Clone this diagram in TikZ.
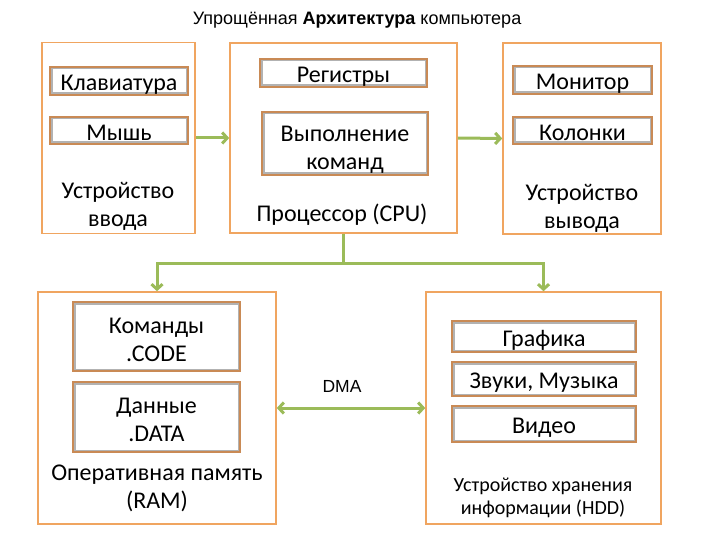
\documentclass[tikz,border=0pt]{standalone}
\usepackage{fontspec}
\setmainfont{Carlito}
\newfontfamily\arialf{Liberation Sans}
\usetikzlibrary{arrows.meta,shadows}
\definecolor{obox}{HTML}{F0A560}
\definecolor{ibox}{HTML}{C98A55}
\definecolor{grn}{HTML}{9BBB59}
\newcommand{\upsp}[1]{\rule{0pt}{#1}}
\tikzset{
  outer/.style={draw=obox, line width=1.6pt, fill=white, rectangle, inner sep=0pt},
  innerbase/.style={draw=ibox, line width=1.6pt, fill=white, rectangle, inner sep=0pt,
    font=\fontsize{24}{28}\selectfont,
    drop shadow={opacity=0.35, shadow xshift=1.2pt, shadow yshift=-1.2pt},
    path picture={\draw[black!30, line width=5pt] (path picture bounding box.south west) rectangle (path picture bounding box.north east);}},
  inner/.style={innerbase, text height=19.5pt, text depth=0pt},
  inner2/.style={innerbase, align=center},
  lbl/.style={align=center, font=\fontsize{24}{28}\selectfont, inner sep=0pt},
  arr/.style={draw=grn, line width=3pt, -{Straight Barb[length=5pt,width=11pt]}},
  arrb/.style={draw=grn, line width=3pt, {Straight Barb[length=5pt,width=11pt]}-{Straight Barb[length=5pt,width=11pt]}},
  ln/.style={draw=grn, line width=3pt}
}
\begin{document}
\begin{tikzpicture}[x=1pt,y=-1pt]
\useasboundingbox (0,0) rectangle (720,540);
\node[font=\arialf\fontsize{18}{20}\selectfont] (title) at (357,20) {Упрощённая \textbf{Архитектура} компьютера};
% outer boxes
\node[outer, minimum width=153pt, minimum height=191pt] (inp) at (118.5,138) {};
\node[outer, minimum width=227pt, minimum height=190pt] (cpu) at (343.5,138) {};
\node[outer, minimum width=158pt, minimum height=191pt] (out) at (582,138.5) {};
\node[outer, minimum width=238pt, minimum height=232pt] (ram) at (157,408) {};
\node[outer, minimum width=235pt, minimum height=232pt] (hdd) at (543.5,408) {};
% inner boxes
\node[inner, minimum width=138pt, minimum height=28pt] (kb) at (119,81) {Клавиатура};
\node[inner, minimum width=138pt, minimum height=27pt] (mouse) at (119,130.5) {Мышь};
\node[inner, minimum width=167pt, minimum height=28pt] (reg) at (343.5,73) {Регистры};
\node[inner2, minimum width=166pt, minimum height=63pt] (exec) at (345,143.5) {\upsp{28pt}Выполнение\\команд};
\node[inner, minimum width=139pt, minimum height=28pt] (mon) at (582.5,80) {Монитор};
\node[inner, minimum width=139pt, minimum height=27pt] (spk) at (582.5,130.5) {Колонки};
\node[inner2, minimum width=167pt, minimum height=69pt] (code) at (156.5,336.5) {\upsp{22pt}Команды\\.CODE};
\node[inner2, minimum width=167pt, minimum height=70pt] (data) at (156.5,417) {\upsp{22pt}Данные\\.DATA};
\node[inner, minimum width=184pt, minimum height=31pt] (gfx) at (544,336.5) {Графика};
\node[inner, minimum width=184pt, minimum height=34pt] (snd) at (544,379) {Звуки, Музыка};
\node[inner, minimum width=184pt, minimum height=36pt] (vid) at (544,424) {Видео};
% labels
\node[lbl] (inplbl) at (118,206) {Устройство\\ввода};
\node[lbl] (cpulbl) at (342,215) {Процессор (CPU)};
\node[lbl] (outlbl) at (582,208) {Устройство\\вывода};
\node[lbl] (ramlbl) at (157,488) {Оперативная память\\(RAM)};
\node[lbl, font=\fontsize{20}{23}\selectfont] (hddlbl) at (543,498) {Устройство хранения\\информации (HDD)};
\node[font=\arialf\fontsize{17.5}{18}\selectfont] (dma) at (342,386) {DMA};
% connectors
\draw[arr] (inp.east) -- (cpu.west);
\draw[arr] (cpu.east) -- (out.west);
\coordinate (j) at (343.5,263);
\draw[ln] (cpu.south) -- (j);
\draw[arr] (j) -| (ram.north);
\draw[arr] (j) -| (hdd.north);
\draw[arrb] (ram.east) -- (hdd.west);
\end{tikzpicture}
\end{document}
